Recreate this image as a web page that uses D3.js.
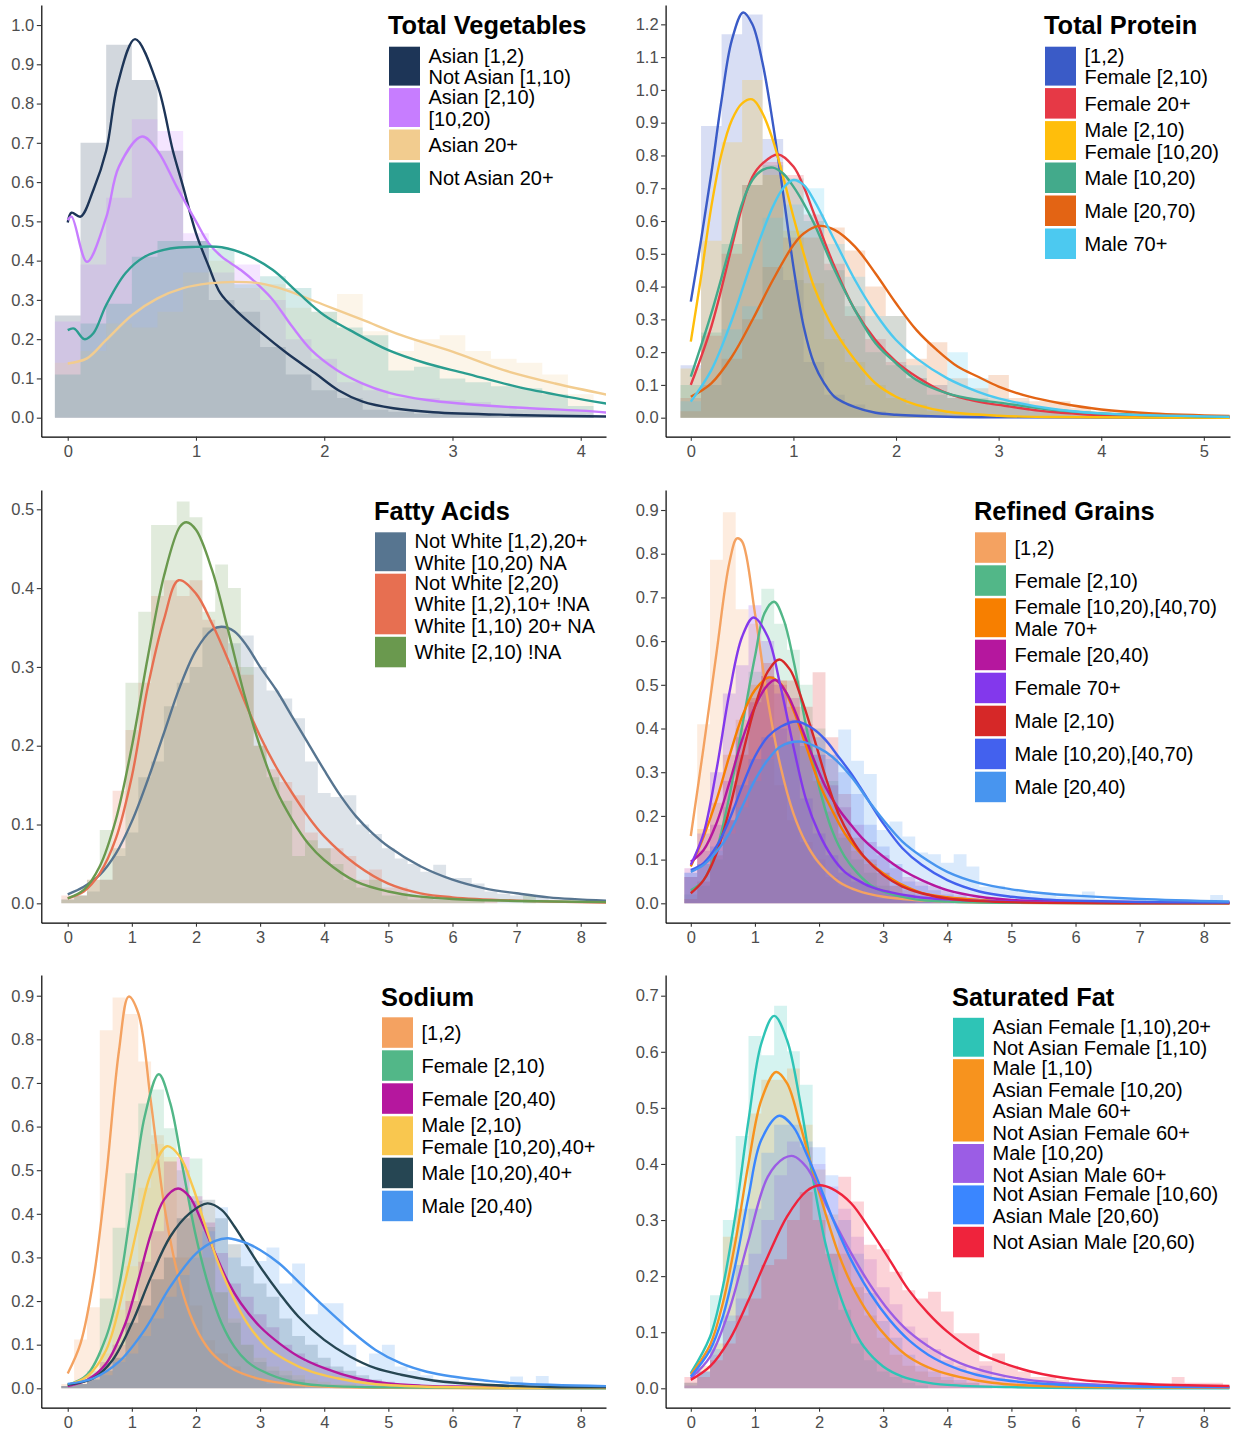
<!DOCTYPE html>
<html>
<head>
<meta charset="utf-8">
<script src="https://cdn.jsdelivr.net/npm/d3@7"></script>
<style>
  body { margin: 0; background: #fff; }
  svg { display: block; font-family: "Liberation Sans", Arial, sans-serif; }
</style>
</head>
<body>
<script>
// ---------- data ----------
// histogram bins are 0.2 wide, first bin starts at -0.1
var binStart = -0.1, binWidth = 0.2;

// Total Vegetables
var vegTitle = "Total Vegetables";
var vegLabels = ["Asian [1,2)\nNot Asian [1,10)", "Asian [2,10)\n[10,20)", "Asian 20+", "Not Asian 20+"];
var vegColors = ["#1d3557", "#c77dff", "#f2cc8f", "#2a9d8f"];
var vegBins = [
  [0.26, 0.70, 0.95, 0.86, 0.68, 0.45, 0.30, 0.27, 0.18, 0.11, 0.07, 0.05, 0.02, 0.015, 0.01, 0.01, 0.01, 0.005, 0.005, 0.005, 0.003],
  [0.245, 0.39, 0.56, 0.76, 0.73, 0.47, 0.37, 0.39, 0.30, 0.20, 0.15, 0.09, 0.07, 0.05, 0.05, 0.045, 0.04, 0.03, 0.02, 0.02, 0.02],
  [0.14, 0.17, 0.24, 0.23, 0.27, 0.37, 0.40, 0.33, 0.34, 0.28, 0.27, 0.315, 0.22, 0.17, 0.20, 0.21, 0.17, 0.15, 0.14, 0.11, 0.06],
  [0.11, 0.24, 0.29, 0.41, 0.45, 0.45, 0.43, 0.34, 0.36, 0.33, 0.27, 0.23, 0.21, 0.12, 0.13, 0.10, 0.09, 0.08, 0.075, 0.06, 0.03]
];
var vegDensity = [
  [[0, 0.497], [0.03, 0.522], [0.1, 0.512], [0.2, 0.58], [0.3, 0.68], [0.39, 0.85], [0.525, 0.964], [0.7, 0.847], [0.82, 0.68], [0.9, 0.588], [1.0, 0.47], [1.1, 0.385], [1.19, 0.317], [1.31, 0.274], [1.5, 0.219], [1.71, 0.164], [1.93, 0.113], [2.11, 0.07], [2.3, 0.041], [2.54, 0.024], [2.85, 0.014], [3.46, 0.007], [4.2, 0.003]],
  [[0, 0.503], [0.03, 0.512], [0.15, 0.397], [0.3, 0.51], [0.4, 0.64], [0.58, 0.716], [0.7, 0.68], [0.85, 0.588], [1.0, 0.5], [1.1, 0.444], [1.2, 0.41], [1.35, 0.376], [1.5, 0.334], [1.6, 0.30], [1.75, 0.232], [1.9, 0.172], [2.1, 0.121], [2.3, 0.087], [2.5, 0.064], [2.8, 0.045], [3.1, 0.035], [3.5, 0.026], [4.0, 0.018], [4.2, 0.013]],
  [[0, 0.138], [0.15, 0.151], [0.3, 0.198], [0.5, 0.261], [0.7, 0.304], [0.9, 0.33], [1.1, 0.342], [1.3, 0.346], [1.5, 0.342], [1.7, 0.325], [2.0, 0.287], [2.3, 0.249], [2.6, 0.21], [3.0, 0.168], [3.4, 0.121], [3.8, 0.087], [4.2, 0.059]],
  [[0, 0.223], [0.05, 0.227], [0.13, 0.2], [0.2, 0.215], [0.3, 0.287], [0.45, 0.368], [0.6, 0.41], [0.8, 0.431], [1.0, 0.435], [1.2, 0.434], [1.4, 0.414], [1.6, 0.376], [1.8, 0.317], [2.0, 0.261], [2.2, 0.223], [2.5, 0.172], [2.8, 0.138], [3.1, 0.113], [3.5, 0.079], [3.9, 0.053], [4.2, 0.036]]
];

// Total Protein
var proTitle = "Total Protein";
var proLabels = ["[1,2)\nFemale [2,10)", "Female 20+", "Male [2,10)\nFemale [10,20)", "Male [10,20)", "Male [20,70)", "Male 70+"];
var proColors = ["#3a5bc7", "#e63946", "#ffbe0b", "#43aa8b", "#e36414", "#4cc9f0"];
var proBins = [
  [0.16, 0.89, 1.17, 1.23, 0.85, 0.42, 0.17, 0.07, 0.04, 0.02, 0.01, 0.005],
  [0.06, 0.25, 0.50, 0.71, 0.78, 0.74, 0.62, 0.47, 0.31, 0.24, 0.17, 0.12, 0.10, 0.06, 0.05, 0.04, 0.03, 0.02, 0.02, 0.01, 0.01],
  [0.15, 0.54, 0.84, 1.03, 0.74, 0.57, 0.41, 0.24, 0.17, 0.10, 0.06, 0.04, 0.02, 0.01, 0.01, 0.005],
  [0.10, 0.26, 0.53, 0.71, 0.77, 0.73, 0.60, 0.45, 0.34, 0.20, 0.16, 0.12, 0.07, 0.06, 0.06, 0.04, 0.03, 0.02, 0.02, 0.01, 0.01],
  [0.02, 0.10, 0.18, 0.30, 0.46, 0.55, 0.55, 0.58, 0.51, 0.40, 0.31, 0.18, 0.23, 0.12, 0.09, 0.13, 0.06, 0.05, 0.05, 0.03, 0.02, 0.015, 0.01, 0.01, 0.005, 0.005],
  [0.05, 0.10, 0.27, 0.34, 0.61, 0.65, 0.70, 0.53, 0.43, 0.31, 0.31, 0.16, 0.10, 0.20, 0.12, 0.06, 0.05, 0.03, 0.02, 0.01, 0.01]
];
var proDensity = [
  [[0, 0.354], [0.1, 0.542], [0.2, 0.745], [0.3, 0.969], [0.4, 1.152], [0.51, 1.236], [0.6, 1.20], [0.7, 1.081], [0.8, 0.898], [0.9, 0.684], [1.0, 0.461], [1.1, 0.278], [1.2, 0.166], [1.3, 0.105], [1.4, 0.064], [1.6, 0.032], [1.8, 0.015], [2.0, 0.009], [2.5, 0.003], [3.0, 0.001], [5.25, 0]],
  [[0, 0.10], [0.2, 0.278], [0.4, 0.522], [0.5, 0.644], [0.6, 0.735], [0.7, 0.776], [0.85, 0.803], [1.0, 0.766], [1.1, 0.705], [1.2, 0.623], [1.4, 0.461], [1.6, 0.328], [1.8, 0.237], [2.0, 0.171], [2.2, 0.125], [2.5, 0.074], [2.8, 0.049], [3.0, 0.039], [3.5, 0.018], [4.0, 0.008], [5.25, 0.002]],
  [[0, 0.232], [0.1, 0.43], [0.2, 0.644], [0.3, 0.806], [0.4, 0.908], [0.5, 0.959], [0.6, 0.971], [0.7, 0.928], [0.8, 0.847], [0.9, 0.735], [1.0, 0.613], [1.1, 0.501], [1.2, 0.40], [1.4, 0.267], [1.6, 0.176], [1.8, 0.105], [2.0, 0.064], [2.2, 0.039], [2.5, 0.018], [3.0, 0.006], [3.5, 0.002], [5.25, 0]],
  [[0, 0.125], [0.2, 0.318], [0.4, 0.542], [0.5, 0.654], [0.6, 0.725], [0.7, 0.756], [0.8, 0.763], [0.9, 0.745], [1.0, 0.705], [1.1, 0.654], [1.2, 0.593], [1.4, 0.451], [1.6, 0.328], [1.8, 0.227], [2.0, 0.166], [2.2, 0.115], [2.5, 0.074], [2.8, 0.054], [3.0, 0.046], [3.5, 0.025], [4.0, 0.013], [5.25, 0.003]],
  [[0, 0.064], [0.2, 0.105], [0.4, 0.186], [0.6, 0.298], [0.8, 0.42], [1.0, 0.527], [1.1, 0.562], [1.25, 0.585], [1.4, 0.573], [1.6, 0.522], [1.8, 0.44], [2.0, 0.349], [2.2, 0.267], [2.4, 0.206], [2.6, 0.156], [2.8, 0.125], [3.0, 0.095], [3.3, 0.064], [3.6, 0.044], [4.0, 0.025], [4.5, 0.013], [5.25, 0.005]],
  [[0, 0.049], [0.2, 0.145], [0.4, 0.298], [0.6, 0.481], [0.8, 0.644], [0.9, 0.70], [1.0, 0.725], [1.1, 0.71], [1.2, 0.664], [1.4, 0.542], [1.6, 0.42], [1.8, 0.318], [2.0, 0.237], [2.2, 0.181], [2.5, 0.12], [2.8, 0.079], [3.0, 0.059], [3.5, 0.028], [4.0, 0.013], [5.25, 0.003]]
];

// Fatty Acids
var fatTitle = "Fatty Acids";
var fatLabels = ["Not White [1,2),20+\nWhite [10,20) NA", "Not White [2,20)\nWhite [1,2),10+ !NA\nWhite [1,10) 20+ NA", "White [2,10) !NA"];
var fatColors = ["#577590", "#e76f51", "#6a994e"];
var fatBins = [
  [0.005, 0.01, 0.015, 0.03, 0.06, 0.09, 0.16, 0.18, 0.25, 0.28, 0.30, 0.35, 0.35, 0.33, 0.34, 0.30, 0.27, 0.26, 0.235, 0.18, 0.14, 0.135, 0.137, 0.10, 0.088, 0.07, 0.057, 0.05, 0.04, 0.049, 0.032, 0.032, 0.025, 0.015, 0.012, 0.01, 0.01, 0.008, 0.005, 0.005, 0.004, 0.003],
  [0.01, 0.01, 0.03, 0.03, 0.143, 0.22, 0.28, 0.39, 0.41, 0.39, 0.41, 0.36, 0.35, 0.30, 0.29, 0.20, 0.17, 0.154, 0.137, 0.09, 0.07, 0.07, 0.06, 0.03, 0.043, 0.02, 0.02, 0.01, 0.01, 0.005, 0.005, 0.005, 0.003, 0.003],
  [0.005, 0.01, 0.03, 0.093, 0.07, 0.28, 0.37, 0.48, 0.48, 0.51, 0.49, 0.37, 0.43, 0.40, 0.30, 0.20, 0.16, 0.13, 0.06, 0.08, 0.07, 0.05, 0.03, 0.02, 0.03, 0.01, 0.01, 0.005, 0.01, 0.005, 0.005, 0.005, 0.005, 0, 0, 0, 0.01]
];
var fatDensity = [
  [[0, 0.0114], [0.25, 0.021], [0.5, 0.036], [0.75, 0.063], [1.0, 0.104], [1.25, 0.157], [1.5, 0.216], [1.75, 0.275], [2.0, 0.321], [2.25, 0.347], [2.4, 0.351], [2.6, 0.345], [2.8, 0.326], [3.0, 0.30], [3.25, 0.271], [3.5, 0.237], [3.75, 0.203], [4.0, 0.169], [4.25, 0.137], [4.5, 0.11], [4.75, 0.089], [5.0, 0.072], [5.5, 0.047], [6.0, 0.03], [6.5, 0.019], [7.0, 0.0127], [7.5, 0.0076], [8.4, 0.0034]],
  [[0, 0.0063], [0.25, 0.015], [0.5, 0.038], [0.75, 0.082], [1.0, 0.161], [1.25, 0.275], [1.5, 0.36], [1.73, 0.41], [2.0, 0.393], [2.25, 0.355], [2.5, 0.309], [2.75, 0.258], [3.0, 0.212], [3.25, 0.173], [3.5, 0.14], [3.75, 0.11], [4.0, 0.085], [4.5, 0.049], [5.0, 0.025], [5.5, 0.0127], [6.0, 0.0076], [7.0, 0.0034], [8.4, 0.001]],
  [[0, 0.0063], [0.25, 0.017], [0.5, 0.047], [0.75, 0.106], [1.0, 0.199], [1.25, 0.313], [1.5, 0.415], [1.75, 0.478], [1.85, 0.4835], [2.0, 0.474], [2.25, 0.423], [2.5, 0.347], [2.75, 0.266], [3.0, 0.199], [3.25, 0.144], [3.5, 0.106], [3.75, 0.076], [4.0, 0.055], [4.5, 0.0275], [5.0, 0.015], [5.5, 0.0085], [6.0, 0.0055], [7.0, 0.003], [8.4, 0.0015]]
];

// Refined Grains
var grnTitle = "Refined Grains";
var grnLabels = ["[1,2)", "Female [2,10)", "Female [10,20),[40,70)\nMale 70+", "Female [20,40)", "Female 70+", "Male [2,10)", "Male [10,20),[40,70)", "Male [20,40)"];
var grnColors = ["#f4a261", "#52b788", "#f77f00", "#b5179e", "#8338ec", "#d62828", "#4361ee", "#4895ef"];
var grnBins = [
  [0.06, 0.41, 0.786, 0.895, 0.673, 0.64, 0.50, 0.27, 0.19, 0.14, 0.10, 0.06, 0.04, 0.03, 0.02, 0.01, 0.01, 0.005],
  [0.02, 0.04, 0.10, 0.22, 0.40, 0.53, 0.72, 0.64, 0.58, 0.50, 0.40, 0.28, 0.15, 0.10, 0.07, 0.04, 0.02, 0.01, 0.01, 0.005],
  [0.06, 0.17, 0.23, 0.34, 0.42, 0.50, 0.52, 0.51, 0.45, 0.36, 0.28, 0.21, 0.16, 0.12, 0.09, 0.07, 0.04, 0.03, 0.02, 0.015, 0.01, 0.01, 0.005, 0.005, 0.005],
  [0.08, 0.12, 0.18, 0.28, 0.38, 0.46, 0.52, 0.50, 0.47, 0.41, 0.34, 0.27, 0.22, 0.18, 0.14, 0.11, 0.08, 0.06, 0.05, 0.04, 0.03, 0.02, 0.015, 0.01, 0.01, 0.005, 0.005, 0.005],
  [0.06, 0.16, 0.30, 0.48, 0.545, 0.682, 0.60, 0.48, 0.37, 0.24, 0.16, 0.11, 0.07, 0.05, 0.04, 0.03, 0.02, 0.015, 0.01, 0.01, 0.005],
  [0.01, 0.05, 0.11, 0.19, 0.34, 0.47, 0.55, 0.51, 0.51, 0.45, 0.529, 0.38, 0.25, 0.15, 0.10, 0.07, 0.04, 0.02, 0.01, 0.01, 0.005],
  [0.07, 0.09, 0.13, 0.19, 0.27, 0.33, 0.38, 0.40, 0.42, 0.40, 0.38, 0.34, 0.30, 0.25, 0.18, 0.13, 0.09, 0.05, 0.04, 0.03, 0.02, 0.015, 0.01, 0.01, 0.005, 0.005],
  [0.07, 0.09, 0.12, 0.16, 0.22, 0.28, 0.33, 0.36, 0.37, 0.36, 0.34, 0.33, 0.398, 0.326, 0.296, 0.168, 0.187, 0.153, 0.116, 0.112, 0.093, 0.112, 0.084, 0.038, 0.04, 0.03, 0.025, 0.02, 0.02, 0.015, 0.015, 0.027, 0.01, 0.01, 0.01, 0.012, 0.005, 0.005, 0.005, 0.005, 0.005, 0.019]
];
var grnDensity = [
  [[0, 0.154], [0.2, 0.358], [0.4, 0.572], [0.6, 0.778], [0.72, 0.835], [0.8, 0.828], [1.0, 0.664], [1.2, 0.465], [1.4, 0.313], [1.6, 0.206], [1.8, 0.137], [2.0, 0.092], [2.3, 0.05], [2.6, 0.029], [3.0, 0.015], [3.5, 0.0076], [4.0, 0.004], [5.0, 0.001], [8.4, 0]],
  [[0, 0.03], [0.2, 0.053], [0.4, 0.122], [0.6, 0.244], [0.8, 0.404], [1.0, 0.564], [1.15, 0.664], [1.3, 0.69], [1.45, 0.648], [1.6, 0.557], [1.8, 0.404], [2.0, 0.267], [2.2, 0.168], [2.4, 0.107], [2.6, 0.069], [2.8, 0.042], [3.0, 0.027], [3.5, 0.009], [4.0, 0.004], [5.0, 0.001], [8.4, 0]],
  [[0, 0.084], [0.2, 0.153], [0.4, 0.236], [0.6, 0.336], [0.8, 0.427], [1.0, 0.488], [1.22, 0.517], [1.4, 0.503], [1.6, 0.442], [1.8, 0.359], [2.0, 0.275], [2.2, 0.214], [2.4, 0.16], [2.6, 0.122], [2.8, 0.092], [3.0, 0.069], [3.3, 0.042], [3.6, 0.024], [4.0, 0.014], [4.5, 0.0076], [5.0, 0.004], [6.0, 0.002], [8.4, 0.0005]],
  [[0, 0.095], [0.2, 0.122], [0.4, 0.183], [0.6, 0.275], [0.8, 0.374], [1.0, 0.45], [1.2, 0.50], [1.32, 0.511], [1.5, 0.48], [1.7, 0.412], [1.9, 0.336], [2.1, 0.267], [2.3, 0.217], [2.5, 0.179], [2.7, 0.145], [3.0, 0.107], [3.3, 0.076], [3.6, 0.053], [4.0, 0.03], [4.5, 0.015], [5.0, 0.0076], [6.0, 0.004], [8.4, 0.002]],
  [[0, 0.088], [0.2, 0.16], [0.4, 0.305], [0.6, 0.48], [0.8, 0.61], [0.98, 0.654], [1.2, 0.61], [1.4, 0.496], [1.6, 0.359], [1.8, 0.236], [2.0, 0.16], [2.2, 0.107], [2.4, 0.072], [2.6, 0.053], [2.8, 0.038], [3.0, 0.029], [3.5, 0.015], [4.0, 0.009], [5.0, 0.004], [8.4, 0.001]],
  [[0, 0.023], [0.2, 0.053], [0.4, 0.114], [0.6, 0.214], [0.8, 0.336], [1.0, 0.45], [1.2, 0.53], [1.38, 0.558], [1.55, 0.534], [1.7, 0.48], [1.9, 0.389], [2.1, 0.29], [2.3, 0.206], [2.5, 0.149], [2.7, 0.107], [3.0, 0.065], [3.3, 0.038], [3.6, 0.023], [4.0, 0.011], [4.5, 0.005], [5.5, 0.001], [8.4, 0]],
  [[0, 0.076], [0.2, 0.092], [0.4, 0.13], [0.6, 0.191], [0.8, 0.267], [1.0, 0.336], [1.2, 0.381], [1.4, 0.404], [1.65, 0.416], [1.9, 0.40], [2.1, 0.374], [2.3, 0.336], [2.5, 0.297], [2.7, 0.252], [3.0, 0.183], [3.3, 0.126], [3.6, 0.088], [4.0, 0.053], [4.5, 0.027], [5.0, 0.015], [5.5, 0.009], [6.0, 0.006], [7.0, 0.003], [8.4, 0.0015]],
  [[0, 0.072], [0.2, 0.088], [0.4, 0.118], [0.6, 0.16], [0.8, 0.221], [1.0, 0.282], [1.2, 0.328], [1.4, 0.359], [1.72, 0.37], [2.0, 0.355], [2.2, 0.336], [2.5, 0.29], [2.8, 0.229], [3.0, 0.191], [3.3, 0.141], [3.6, 0.107], [4.0, 0.072], [4.5, 0.046], [5.0, 0.032], [5.5, 0.023], [6.0, 0.0175], [7.0, 0.01], [8.4, 0.004]]
];

// Sodium
var sodTitle = "Sodium";
var sodLabels = ["[1,2)", "Female [2,10)", "Female [20,40)", "Male [2,10)\nFemale [10,20),40+", "Male [10,20),40+", "Male [20,40)"];
var sodColors = ["#f4a261", "#52b788", "#b5179e", "#f9c74f", "#264653", "#4895ef"];
var sodBins = [
  [0.01, 0.112, 0.186, 0.821, 0.896, 0.858, 0.749, 0.58, 0.52, 0.30, 0.19, 0.11, 0.08, 0.05, 0.03, 0.02, 0.01, 0.01, 0.005],
  [0.005, 0.01, 0.04, 0.206, 0.368, 0.493, 0.653, 0.685, 0.596, 0.50, 0.527, 0.37, 0.22, 0.15, 0.10, 0.06, 0.04, 0.03, 0.02, 0.01, 0.005],
  [0.005, 0.01, 0.03, 0.06, 0.10, 0.20, 0.29, 0.36, 0.52, 0.53, 0.44, 0.38, 0.31, 0.24, 0.21, 0.17, 0.14, 0.10, 0.08, 0.06, 0.05, 0.04, 0.03, 0.02, 0.015, 0.01, 0.01, 0.005],
  [0.005, 0.01, 0.03, 0.08, 0.18, 0.28, 0.46, 0.56, 0.53, 0.46, 0.40, 0.30, 0.22, 0.16, 0.10, 0.07, 0.05, 0.04, 0.03, 0.02, 0.015, 0.01, 0.01, 0.005],
  [0.005, 0.01, 0.02, 0.04, 0.07, 0.15, 0.19, 0.25, 0.30, 0.39, 0.43, 0.432, 0.39, 0.33, 0.28, 0.24, 0.21, 0.16, 0.12, 0.10, 0.07, 0.05, 0.04, 0.03, 0.02, 0.015, 0.01, 0.01, 0.005],
  [0.005, 0.01, 0.02, 0.03, 0.06, 0.08, 0.12, 0.16, 0.21, 0.26, 0.30, 0.36, 0.415, 0.30, 0.33, 0.292, 0.323, 0.24, 0.286, 0.17, 0.195, 0.195, 0.10, 0.05, 0.08, 0.10, 0.05, 0.04, 0.03, 0.02, 0.02, 0.015, 0.01, 0.01, 0.01, 0.027, 0.01, 0.028, 0.005, 0.005, 0.005, 0.005]
];
var sodDensity = [
  [[0, 0.034], [0.2, 0.103], [0.4, 0.248], [0.6, 0.485], [0.8, 0.775], [0.95, 0.898], [1.1, 0.86], [1.3, 0.653], [1.5, 0.424], [1.7, 0.271], [1.9, 0.172], [2.1, 0.111], [2.3, 0.073], [2.6, 0.042], [3.0, 0.021], [3.5, 0.009], [4.0, 0.004], [5.0, 0.001], [8.4, 0]],
  [[0, 0.008], [0.3, 0.031], [0.6, 0.118], [0.8, 0.233], [1.0, 0.424], [1.2, 0.623], [1.42, 0.72], [1.6, 0.653], [1.8, 0.50], [2.0, 0.348], [2.2, 0.233], [2.4, 0.149], [2.6, 0.095], [2.8, 0.061], [3.0, 0.042], [3.5, 0.015], [4.0, 0.006], [5.0, 0.002], [8.4, 0]],
  [[0, 0.005], [0.3, 0.019], [0.6, 0.057], [0.9, 0.149], [1.1, 0.248], [1.3, 0.355], [1.5, 0.432], [1.72, 0.458], [1.9, 0.439], [2.1, 0.378], [2.3, 0.309], [2.5, 0.244], [2.7, 0.195], [3.0, 0.141], [3.3, 0.103], [3.6, 0.073], [4.0, 0.046], [4.5, 0.023], [5.0, 0.011], [5.5, 0.006], [6.0, 0.004], [8.4, 0.001]],
  [[0, 0.008], [0.3, 0.027], [0.6, 0.088], [0.9, 0.248], [1.1, 0.378], [1.3, 0.493], [1.55, 0.555], [1.75, 0.531], [1.95, 0.462], [2.15, 0.371], [2.35, 0.286], [2.55, 0.218], [2.8, 0.149], [3.1, 0.095], [3.4, 0.065], [3.8, 0.038], [4.2, 0.023], [4.7, 0.011], [5.5, 0.004], [8.4, 0.001]],
  [[0, 0.008], [0.4, 0.023], [0.7, 0.065], [1.0, 0.149], [1.3, 0.256], [1.6, 0.348], [1.9, 0.401], [2.18, 0.424], [2.4, 0.409], [2.6, 0.371], [2.8, 0.325], [3.0, 0.279], [3.3, 0.218], [3.6, 0.164], [4.0, 0.111], [4.4, 0.073], [4.8, 0.046], [5.2, 0.031], [5.7, 0.018], [6.5, 0.008], [7.5, 0.003], [8.4, 0.002]],
  [[0, 0.01], [0.4, 0.023], [0.8, 0.061], [1.2, 0.134], [1.6, 0.233], [2.0, 0.309], [2.3, 0.338], [2.5, 0.344], [2.8, 0.332], [3.0, 0.317], [3.3, 0.286], [3.6, 0.244], [4.0, 0.187], [4.4, 0.134], [4.8, 0.088], [5.2, 0.057], [5.6, 0.038], [6.0, 0.027], [6.5, 0.018], [7.0, 0.011], [8.4, 0.005]]
];

// Saturated Fat
var satTitle = "Saturated Fat";
var satLabels = ["Asian Female [1,10),20+\nNot Asian Female [1,10)", "Male [1,10)\nAsian Female [10,20)\nAsian Male 60+\nNot Asian Female 60+", "Male [10,20)\nNot Asian Male 60+", "Not Asian Female [10,60)\nAsian Male [20,60)", "Not Asian Male [20,60)"];
var satColors = ["#2ec4b6", "#f7931e", "#9b5de5", "#3a86ff", "#ef233c"];
var satBins = [
  [0.01, 0.03, 0.166, 0.30, 0.45, 0.628, 0.594, 0.682, 0.601, 0.541, 0.36, 0.24, 0.14, 0.08, 0.05, 0.03, 0.02, 0.01, 0.005],
  [0.01, 0.04, 0.08, 0.27, 0.32, 0.49, 0.55, 0.55, 0.57, 0.47, 0.39, 0.31, 0.24, 0.18, 0.13, 0.09, 0.06, 0.04, 0.03, 0.02, 0.015, 0.01, 0.01, 0.005],
  [0.005, 0.03, 0.06, 0.12, 0.16, 0.24, 0.30, 0.38, 0.44, 0.43, 0.40, 0.36, 0.32, 0.27, 0.23, 0.18, 0.15, 0.11, 0.09, 0.07, 0.05, 0.04, 0.03, 0.04, 0.02, 0.015, 0.01, 0.01, 0.005],
  [0.01, 0.03, 0.07, 0.13, 0.22, 0.32, 0.42, 0.47, 0.47, 0.44, 0.43, 0.38, 0.30, 0.24, 0.17, 0.12, 0.09, 0.06, 0.04, 0.03, 0.02, 0.015, 0.01, 0.005],
  [0.02, 0.02, 0.05, 0.08, 0.13, 0.16, 0.22, 0.23, 0.30, 0.35, 0.30, 0.24, 0.377, 0.333, 0.256, 0.248, 0.208, 0.175, 0.16, 0.172, 0.137, 0.098, 0.098, 0.048, 0.062, 0.04, 0.03, 0.02, 0.02, 0.015, 0.01, 0.01, 0.01, 0.01, 0.005, 0.005, 0.005, 0.005, 0.02, 0.01, 0.01, 0.01]
];
var satDensity = [
  [[0, 0.027], [0.3, 0.092], [0.5, 0.181], [0.7, 0.312], [0.9, 0.478], [1.1, 0.615], [1.3, 0.664], [1.5, 0.621], [1.7, 0.514], [1.9, 0.377], [2.1, 0.258], [2.3, 0.175], [2.5, 0.116], [2.7, 0.074], [3.0, 0.039], [3.3, 0.021], [3.6, 0.012], [4.0, 0.006], [5.0, 0.002], [8.4, 0]],
  [[0, 0.024], [0.3, 0.077], [0.5, 0.152], [0.7, 0.264], [0.9, 0.401], [1.1, 0.514], [1.33, 0.564], [1.5, 0.544], [1.7, 0.472], [1.9, 0.389], [2.1, 0.312], [2.3, 0.241], [2.5, 0.187], [2.8, 0.128], [3.1, 0.086], [3.4, 0.056], [3.8, 0.033], [4.2, 0.02], [4.7, 0.01], [5.5, 0.004], [8.4, 0.001]],
  [[0, 0.018], [0.3, 0.056], [0.6, 0.14], [0.9, 0.264], [1.2, 0.377], [1.45, 0.41], [1.6, 0.414], [1.8, 0.395], [2.0, 0.354], [2.2, 0.306], [2.5, 0.241], [2.8, 0.184], [3.1, 0.137], [3.4, 0.101], [3.8, 0.068], [4.2, 0.045], [4.7, 0.027], [5.2, 0.016], [6.0, 0.008], [7.0, 0.004], [8.4, 0.002]],
  [[0, 0.021], [0.3, 0.068], [0.5, 0.128], [0.7, 0.223], [0.9, 0.342], [1.1, 0.443], [1.38, 0.486], [1.6, 0.466], [1.8, 0.419], [2.0, 0.365], [2.2, 0.306], [2.5, 0.229], [2.8, 0.169], [3.1, 0.122], [3.4, 0.086], [3.8, 0.053], [4.2, 0.033], [4.7, 0.018], [5.5, 0.008], [6.5, 0.004], [8.4, 0.002]],
  [[0, 0.015], [0.3, 0.039], [0.6, 0.086], [0.9, 0.157], [1.2, 0.235], [1.5, 0.306], [1.8, 0.351], [2.0, 0.362], [2.2, 0.356], [2.5, 0.33], [2.8, 0.282], [3.1, 0.229], [3.4, 0.175], [3.7, 0.134], [4.0, 0.101], [4.4, 0.068], [4.8, 0.048], [5.3, 0.03], [6.0, 0.016], [7.0, 0.008], [8.4, 0.004]]
];

// axis ticks
var vegXTicks = [0, 1, 2, 3, 4], vegYTicks = d3.range(0, 11).map(d => d / 10);
var proXTicks = [0, 1, 2, 3, 4, 5], proYTicks = d3.range(0, 13).map(d => d / 10);
var wideXTicks = [0, 1, 2, 3, 4, 5, 6, 7, 8];
var fatYTicks = d3.range(0, 6).map(d => d / 10);
var grnYTicks = d3.range(0, 10).map(d => d / 10);
var sodYTicks = d3.range(0, 10).map(d => d / 10);
var satYTicks = d3.range(0, 8).map(d => d / 10);

// ---------- layout ----------
var W = 1233, H = 1433;
var svg = d3.select("body").append("svg").attr("width", W).attr("height", H);

var panels = [
  { title: vegTitle, labels: vegLabels, colors: vegColors, bins: vegBins, dens: vegDensity,
    left: 41.3, right: 606, top: 5, bottom: 436.7, xDomain: [-0.206, 4.197], yDomain: [-0.0484, 1.051],
    xTicks: vegXTicks, yTicks: vegYTicks, keyX: 389, titleY: 34.3, keyTop: 46.7 },
  { title: proTitle, labels: proLabels, colors: proColors, bins: proBins, dens: proDensity,
    left: 665.6, right: 1230, top: 5, bottom: 436.7, xDomain: [-0.2456, 5.255], yDomain: [-0.058, 1.259],
    xTicks: proXTicks, yTicks: proYTicks, keyX: 1045, titleY: 34.3, keyTop: 46.7 },
  { title: fatTitle, labels: fatLabels, colors: fatColors, bins: fatBins, dens: fatDensity,
    left: 41.3, right: 606, top: 490, bottom: 922.7, xDomain: [-0.412, 8.394], yDomain: [-0.0246, 0.5245],
    xTicks: wideXTicks, yTicks: fatYTicks, keyX: 375, titleY: 519.5, keyTop: 532.3 },
  { title: grnTitle, labels: grnLabels, colors: grnColors, bins: grnBins, dens: grnDensity,
    left: 665.6, right: 1230, top: 490, bottom: 922.7, xDomain: [-0.393, 8.409], yDomain: [-0.0444, 0.9458],
    xTicks: wideXTicks, yTicks: grnYTicks, keyX: 975, titleY: 519.5, keyTop: 532.3 },
  { title: sodTitle, labels: sodLabels, colors: sodColors, bins: sodBins, dens: sodDensity,
    left: 41.3, right: 606, top: 975, bottom: 1407.7, xDomain: [-0.412, 8.394], yDomain: [-0.0445, 0.9475],
    xTicks: wideXTicks, yTicks: sodYTicks, keyX: 382, titleY: 1005.5, keyTop: 1017.3 },
  { title: satTitle, labels: satLabels, colors: satColors, bins: satBins, dens: satDensity,
    left: 665.6, right: 1230, top: 975, bottom: 1407.7, xDomain: [-0.393, 8.409], yDomain: [-0.0346, 0.7369],
    xTicks: wideXTicks, yTicks: satYTicks, keyX: 953, titleY: 1005.5, keyTop: 1017.8 }
];

var keyW = 31, lineH = 21.7, keyGap = 2.5;

function drawPanel(p, pi) {
  var x = d3.scaleLinear().domain(p.xDomain).range([p.left, p.right]);
  var y = d3.scaleLinear().domain(p.yDomain).range([p.bottom, p.top]);
  var g = svg.append("g");

  g.append("clipPath").attr("id", "clip" + pi)
    .append("rect").attr("x", p.left).attr("y", p.top)
    .attr("width", p.right - p.left).attr("height", p.bottom - p.top);

  var plot = g.append("g").attr("clip-path", "url(#clip" + pi + ")");

  // histograms as one stepped area per group (no seams between bars)
  var step = d3.area()
    .x(d => x(d[0])).y0(y(0)).y1(d => y(d[1]))
    .curve(d3.curveStepAfter);
  p.bins.forEach(function (vals, gi) {
    var pts = vals.map((v, i) => [binStart + i * binWidth, v]);
    pts.push([binStart + vals.length * binWidth, vals[vals.length - 1]]);
    plot.append("path").attr("d", step(pts))
      .attr("fill", p.colors[gi]).attr("fill-opacity", 0.2);
  });

  // density curves
  var line = d3.line().x(d => x(d[0])).y(d => y(d[1]))
    .curve(d3.curveCatmullRom.alpha(0.5));
  p.dens.forEach(function (pts, gi) {
    plot.append("path").attr("d", line(pts))
      .attr("fill", "none").attr("stroke", p.colors[gi])
      .attr("stroke-width", 2.4).attr("stroke-linejoin", "round");
  });

  // axes
  var yAxis = d3.axisLeft(y).tickValues(p.yTicks).tickFormat(d3.format(".1f"))
    .tickSizeInner(4.5).tickSizeOuter(0).tickPadding(2.5);
  var xAxis = d3.axisBottom(x).tickValues(p.xTicks).tickFormat(d3.format("d"))
    .tickSizeInner(4).tickSizeOuter(0).tickPadding(4.3);

  var ya = g.append("g").attr("transform", "translate(" + p.left + ",0)").call(yAxis);
  var xa = g.append("g").attr("transform", "translate(0," + p.bottom + ")").call(xAxis);
  [ya, xa].forEach(function (a) {
    a.select(".domain").attr("stroke", "#000").attr("stroke-width", 1.2);
    a.selectAll(".tick line").attr("stroke", "#333").attr("stroke-width", 1.1);
    a.selectAll(".tick text").attr("fill", "#4d4d4d")
      .attr("font-size", 16.5).attr("font-family", "Liberation Sans, Arial, sans-serif");
  });

  // legend
  var lg = g.append("g");
  lg.append("text").attr("x", p.keyX - 1).attr("y", p.titleY)
    .attr("font-size", 25.4).attr("font-weight", "bold").attr("fill", "#000")
    .text(p.title);
  var ky = p.keyTop;
  p.labels.forEach(function (lab, gi) {
    var lines = lab.split("\n");
    var kh = Math.max(30.5, lines.length * lineH - 4.5);
    lg.append("rect").attr("x", p.keyX).attr("y", ky)
      .attr("width", keyW).attr("height", kh).attr("fill", p.colors[gi]);
    var c = ky + kh / 2;
    lines.forEach(function (t, li) {
      lg.append("text").attr("x", p.keyX + keyW + 8.5)
        .attr("y", c + (li - (lines.length - 1) / 2) * lineH + 7.2)
        .attr("font-size", 20).attr("fill", "#000").text(t);
    });
    ky += kh + keyGap;
  });
}

panels.forEach(drawPanel);
</script>
</body>
</html>
